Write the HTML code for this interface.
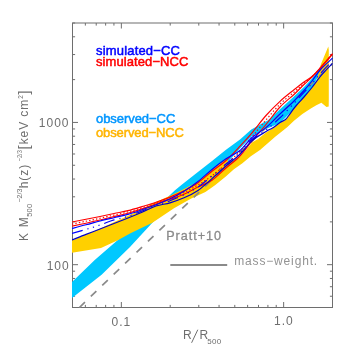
<!DOCTYPE html><html><head><meta charset="utf-8"><style>html,body{margin:0;padding:0;background:#fff;overflow:hidden}body{width:354px;height:354px;position:relative;font-family:"Liberation Sans",sans-serif}</style></head><body><svg width="354" height="354" viewBox="0 0 354 354" style="position:absolute;left:0;top:0">
<rect width="354" height="354" fill="#fff"/>
<g stroke="#6e6e6e" stroke-width="1" fill="none" shape-rendering="auto">
<rect x="72.5" y="23.0" width="260.0" height="284.5"/>
<path d="M72.50 307.5v-2.6M72.50 23.0v2.6"/>
<path d="M85.35 307.5v-2.6M85.35 23.0v2.6"/>
<path d="M96.22 307.5v-2.6M96.22 23.0v2.6"/>
<path d="M105.63 307.5v-2.6M105.63 23.0v2.6"/>
<path d="M113.93 307.5v-2.6M113.93 23.0v2.6"/>
<path d="M121.35 307.5v-5.5M121.35 23.0v5.5"/>
<path d="M170.21 307.5v-2.6M170.21 23.0v2.6"/>
<path d="M198.79 307.5v-2.6M198.79 23.0v2.6"/>
<path d="M219.06 307.5v-2.6M219.06 23.0v2.6"/>
<path d="M234.79 307.5v-2.6M234.79 23.0v2.6"/>
<path d="M247.64 307.5v-2.6M247.64 23.0v2.6"/>
<path d="M258.51 307.5v-2.6M258.51 23.0v2.6"/>
<path d="M267.92 307.5v-2.6M267.92 23.0v2.6"/>
<path d="M276.22 307.5v-2.6M276.22 23.0v2.6"/>
<path d="M283.65 307.5v-5.5M283.65 23.0v5.5"/>
<path d="M332.50 307.5v-2.6M332.50 23.0v2.6"/>
<path d="M72.5 307.50h2.6M332.5 307.50h-2.6"/>
<path d="M72.5 296.24h2.6M332.5 296.24h-2.6"/>
<path d="M72.5 286.71h2.6M332.5 286.71h-2.6"/>
<path d="M72.5 278.46h2.6M332.5 278.46h-2.6"/>
<path d="M72.5 271.19h2.6M332.5 271.19h-2.6"/>
<path d="M72.5 264.68h5.5M332.5 264.68h-5.5"/>
<path d="M72.5 221.86h2.6M332.5 221.86h-2.6"/>
<path d="M72.5 196.81h2.6M332.5 196.81h-2.6"/>
<path d="M72.5 179.04h2.6M332.5 179.04h-2.6"/>
<path d="M72.5 165.25h2.6M332.5 165.25h-2.6"/>
<path d="M72.5 153.99h2.6M332.5 153.99h-2.6"/>
<path d="M72.5 144.46h2.6M332.5 144.46h-2.6"/>
<path d="M72.5 136.21h2.6M332.5 136.21h-2.6"/>
<path d="M72.5 128.94h2.6M332.5 128.94h-2.6"/>
<path d="M72.5 122.43h5.5M332.5 122.43h-5.5"/>
<path d="M72.5 79.61h2.6M332.5 79.61h-2.6"/>
<path d="M72.5 54.56h2.6M332.5 54.56h-2.6"/>
<path d="M72.5 36.79h2.6M332.5 36.79h-2.6"/>
<path d="M72.5 23.00h2.6M332.5 23.00h-2.6"/>
</g>
<clipPath id="c"><rect x="72" y="22.5" width="261" height="285.5"/></clipPath><g clip-path="url(#c)">
<polygon points="72.0,282.0 95.0,259.7 117.8,239.9 130.0,229.5 150.0,215.0 165.0,199.5 170.0,195.0 175.0,190.3 182.0,184.5 196.0,173.6 212.0,161.0 226.0,149.7 240.0,139.5 251.3,129.5 258.6,125.5 263.4,122.6 267.0,121.0 272.0,116.7 276.0,113.0 280.0,109.3 286.0,103.7 292.0,98.2 304.0,87.0 312.0,78.5 320.6,67.6 320.6,72.0 312.0,88.0 304.0,98.0 294.0,109.0 280.0,123.0 266.0,129.0 252.0,136.0 240.0,148.5 226.0,164.0 212.0,174.0 198.0,184.0 180.0,200.0 153.5,221.5 130.0,247.0 101.6,274.8 72.0,297.9" fill="#00c8ff"/>
<polygon points="72.0,240.5 98.0,229.5 128.0,215.8 140.0,210.5 151.4,204.0 156.0,202.0 170.0,195.8 184.0,189.0 198.0,181.5 212.0,169.5 226.0,158.8 229.0,162.0 234.0,160.5 240.0,156.8 246.0,150.0 252.0,142.5 258.0,139.0 266.0,132.5 273.0,128.3 280.0,123.0 285.5,120.0 289.6,114.8 293.0,110.0 296.3,106.0 300.0,101.8 304.0,97.3 312.0,87.8 316.5,81.5 320.6,65.0 328.3,46.5 328.8,50.0 328.8,100.0 328.7,106.6 326.5,107.1 321.4,102.7 316.3,105.3 310.8,108.5 302.4,114.0 294.0,120.8 287.4,127.0 283.7,130.0 275.5,136.6 260.0,150.0 250.8,156.3 242.4,163.3 233.9,169.3 225.8,176.5 215.0,185.3 205.4,192.0 190.8,198.8 174.0,208.3 152.0,223.0 142.4,227.5 130.0,233.5 117.8,240.2 101.0,248.0 72.0,252.8" fill="#ffd000"/>
<path d="M79.4 307.5 L340.0 56.3" stroke="#8a8a8a" stroke-width="1.7" fill="none" stroke-dasharray="7.7 8.17"/>
<path d="M72.0 222.0C74.3 221.6 81.3 220.2 86.0 219.3C90.7 218.4 95.3 217.5 100.0 216.5C104.7 215.5 109.3 214.5 114.0 213.5C118.7 212.5 123.3 211.8 128.0 210.6C132.7 209.4 137.3 208.0 142.0 206.6C146.7 205.2 151.3 203.9 156.0 202.3C160.7 200.7 165.3 199.0 170.0 197.1C174.7 195.2 179.3 193.2 184.0 190.8C188.7 188.4 193.3 186.1 198.0 182.8C202.7 179.5 207.3 174.9 212.0 171.2C216.7 167.5 221.3 164.7 226.0 160.5C230.7 156.3 235.7 150.8 240.0 146.2C244.3 141.6 247.7 137.9 252.0 132.8C256.3 127.7 261.3 120.8 266.0 115.5C270.7 110.2 275.3 105.6 280.0 101.3C284.7 97.0 290.0 93.0 294.0 89.8C298.0 86.6 301.0 84.2 304.0 82.0C307.0 79.8 309.2 78.9 312.0 76.5C314.8 74.1 317.2 71.3 320.6 67.5C324.0 63.7 330.5 55.9 332.5 53.6" stroke="#ff0000" stroke-width="1.15" fill="none"/>
<path d="M72.0 224.1C74.3 223.6 81.3 222.2 86.0 221.2C90.7 220.3 95.3 219.3 100.0 218.2C104.7 217.2 109.3 216.1 114.0 215.1C118.7 214.0 123.3 213.2 128.0 211.9C132.7 210.7 137.3 209.2 142.0 207.8C146.7 206.3 151.3 204.7 156.0 203.2C160.7 201.6 165.3 200.0 170.0 198.2C174.7 196.4 179.3 194.8 184.0 192.6C188.7 190.3 193.3 187.7 198.0 184.9C202.7 182.1 207.3 179.2 212.0 175.8C216.7 172.3 221.3 168.4 226.0 164.2C230.7 160.1 235.7 155.7 240.0 151.1C244.3 146.5 247.7 142.1 252.0 136.9C256.3 131.7 261.3 125.5 266.0 120.0C270.7 114.5 275.3 108.8 280.0 104.2C284.7 99.5 290.0 95.6 294.0 92.2C298.0 88.7 301.0 85.8 304.0 83.2C307.0 80.7 309.2 79.3 312.0 76.8C314.8 74.2 317.2 71.5 320.6 67.7C324.0 63.9 330.5 56.2 332.5 54.0" stroke="#ff0000" stroke-width="1.15" fill="none" stroke-dasharray="1.4 2.1"/>
<path d="M72.0 226.2C74.3 225.7 81.3 224.2 86.0 223.2C90.7 222.2 95.3 221.1 100.0 220.0C104.7 218.9 109.3 217.7 114.0 216.6C118.7 215.5 123.3 214.6 128.0 213.3C132.7 212.0 137.3 210.5 142.0 208.9C146.7 207.3 151.3 205.6 156.0 204.0C160.7 202.4 165.3 200.9 170.0 199.3C174.7 197.7 179.3 196.4 184.0 194.3C188.7 192.2 193.3 189.3 198.0 187.0C202.7 184.7 207.3 183.5 212.0 180.3C216.7 177.1 221.3 172.1 226.0 168.0C230.7 163.9 235.7 160.5 240.0 156.0C244.3 151.5 247.7 146.2 252.0 141.0C256.3 135.8 261.3 130.2 266.0 124.5C270.7 118.8 275.3 112.0 280.0 107.0C284.7 102.0 290.0 98.2 294.0 94.5C298.0 90.8 301.0 87.4 304.0 84.5C307.0 81.6 309.2 79.8 312.0 77.0C314.8 74.2 317.2 71.6 320.6 67.8C324.0 64.0 330.5 56.5 332.5 54.3" stroke="#ff0000" stroke-width="1.15" fill="none"/>
<path d="M72.0 228.5C74.3 227.9 81.3 226.1 86.0 224.8C90.7 223.6 95.3 222.2 100.0 221.0C104.7 219.8 109.3 218.8 114.0 217.7C118.7 216.6 123.3 215.7 128.0 214.4C132.7 213.1 137.3 211.4 142.0 209.8C146.7 208.2 151.3 206.6 156.0 204.8C160.7 203.0 165.3 201.1 170.0 198.8C174.7 196.6 179.3 194.2 184.0 191.3C188.7 188.4 193.3 185.1 198.0 181.5C202.7 177.9 207.3 173.3 212.0 169.5C216.7 165.7 221.3 162.0 226.0 158.8C230.7 155.6 235.7 154.1 240.0 150.5C244.3 146.9 247.7 141.3 252.0 137.5C256.3 133.7 261.3 131.5 266.0 127.6C270.7 123.7 275.3 118.4 280.0 114.0C284.7 109.6 290.0 104.9 294.0 101.0C298.0 97.1 301.0 93.8 304.0 90.5C307.0 87.2 309.2 84.5 312.0 81.0C314.8 77.5 317.2 73.3 320.6 69.5C324.0 65.7 330.5 60.1 332.5 58.2" stroke="#0000ff" stroke-width="1.15" fill="none"/>
<path d="M72.0 233.5C74.3 232.8 81.3 230.8 86.0 229.4C90.7 228.0 95.3 226.6 100.0 225.0C104.7 223.4 109.3 221.3 114.0 219.9C118.7 218.5 123.3 217.8 128.0 216.3C132.7 214.8 137.3 212.8 142.0 211.0C146.7 209.2 151.3 207.1 156.0 205.4C160.7 203.7 165.3 202.6 170.0 200.8C174.7 199.0 179.3 197.1 184.0 194.8C188.7 192.5 193.3 190.1 198.0 187.0C202.7 183.9 207.3 179.8 212.0 176.0C216.7 172.2 221.3 167.9 226.0 164.0C230.7 160.1 235.7 156.6 240.0 152.5C244.3 148.4 247.7 143.1 252.0 139.3C256.3 135.6 261.3 133.6 266.0 130.0C270.7 126.4 275.3 122.2 280.0 117.8C284.7 113.3 290.0 107.5 294.0 103.3C298.0 99.0 301.0 95.6 304.0 92.3C307.0 89.0 309.2 86.7 312.0 83.5C314.8 80.3 317.2 77.0 320.6 73.2C324.0 69.4 330.5 62.8 332.5 60.7" stroke="#0000ff" stroke-width="1.2" fill="none" stroke-dasharray="11 5 1.2 4.6 1.2 4.6 1.2 4.9"/>
<path d="M72.0 240.0C74.3 239.1 81.3 236.2 86.0 234.4C90.7 232.6 95.3 230.8 100.0 229.0C104.7 227.2 109.3 225.3 114.0 223.5C118.7 221.7 123.3 219.9 128.0 218.0C132.7 216.1 137.3 214.2 142.0 212.2C146.7 210.2 151.3 207.6 156.0 206.0C160.7 204.4 165.3 204.2 170.0 202.8C174.7 201.4 179.3 199.9 184.0 197.8C188.7 195.8 193.3 193.7 198.0 190.5C202.7 187.3 207.3 182.7 212.0 178.6C216.7 174.5 221.3 170.1 226.0 166.0C230.7 161.9 235.7 158.5 240.0 154.3C244.3 150.1 247.7 144.5 252.0 140.7C256.3 136.9 262.5 133.7 266.0 131.5C269.5 129.3 270.7 129.3 273.0 127.8C275.3 126.3 277.9 123.9 280.0 122.5C282.1 121.1 283.9 120.9 285.5 119.5C287.1 118.1 288.4 116.0 289.6 114.3C290.9 112.6 291.9 111.1 293.0 109.6C294.1 108.1 295.1 106.9 296.3 105.5C297.5 104.1 298.7 102.8 300.0 101.4C301.3 100.0 302.0 99.3 304.0 97.0C306.0 94.7 309.2 91.0 312.0 87.5C314.8 84.0 317.2 80.2 320.6 76.2C324.0 72.2 330.5 65.5 332.5 63.3" stroke="#0000c8" stroke-width="1.2" fill="none"/>
</g>
<filter id="nf" x="0" y="0" width="354" height="354" filterUnits="userSpaceOnUse"><feOffset dx="0" dy="0"/></filter>
<g font-family="Liberation Sans, sans-serif" fill="#6e6e6e" font-size="12px" filter="url(#nf)">
<text x="111.6" y="325.5" letter-spacing="1">0.1</text>
<text x="274" y="325.3" letter-spacing="1">1.0</text>
<text x="69.5" y="127" text-anchor="end" letter-spacing="1">1000</text>
<text x="69.7" y="270.1" text-anchor="end" letter-spacing="1">100</text>
<text x="183" y="339.4">R</text><text x="199.6" y="339.4">R</text>
<path d="M191.6 342.8L197.8 329.7" stroke="#6e6e6e" stroke-width="1" fill="none"/>
<text x="207.3" y="343.8" font-size="8px" letter-spacing="0.3">500</text>
<g transform="translate(28.2,241) rotate(-90)">
<text x="0" y="0" letter-spacing="1.2">K M</text>
<text x="24.2" y="3.8" font-size="7.5px" letter-spacing="0.2">500</text>
<text x="38.5" y="-5.9" font-size="7px">−2/3</text>
<text x="52.7" y="0" letter-spacing="1">h(z)</text>
<text x="79.6" y="-5.9" font-size="7px" textLength="11.2" lengthAdjust="spacingAndGlyphs">−2/3</text>
<text x="91.6" y="0.3" font-size="15px">[</text>
<text x="96.7" y="0" letter-spacing="0.9">keV cm</text>
<text x="142.3" y="-5.4" font-size="6.5px">2</text>
<text x="146.6" y="0.3" font-size="15px">]</text>
</g>
<text x="166.2" y="240.4" font-size="12.6px" fill="#8a8a8a" stroke="#8a8a8a" stroke-width="0.3" textLength="54.8">Pratt+10</text>
<text x="234.2" y="265.3" font-size="12px" fill="#939393" textLength="83">mass−weight.</text>
</g>
<path d="M170.3 265H227.2" stroke="#8a8a8a" stroke-width="2" fill="none"/>
<g font-family="Liberation Sans, sans-serif" font-size="13px" stroke-width="0.5" filter="url(#nf)">
<text x="96" y="55" fill="#0000ff" stroke="#0000ff" textLength="84">simulated−CC</text>
<text x="96" y="66" fill="#ff0000" stroke="#ff0000" textLength="92.4">simulated−NCC</text>
<text x="96" y="122.7" fill="#0096ff" stroke="#0096ff" textLength="79.3">observed−CC</text>
<text x="96" y="137.3" fill="#ffb400" stroke="#ffb400" textLength="88">observed−NCC</text>
</g>

</svg></body></html>
